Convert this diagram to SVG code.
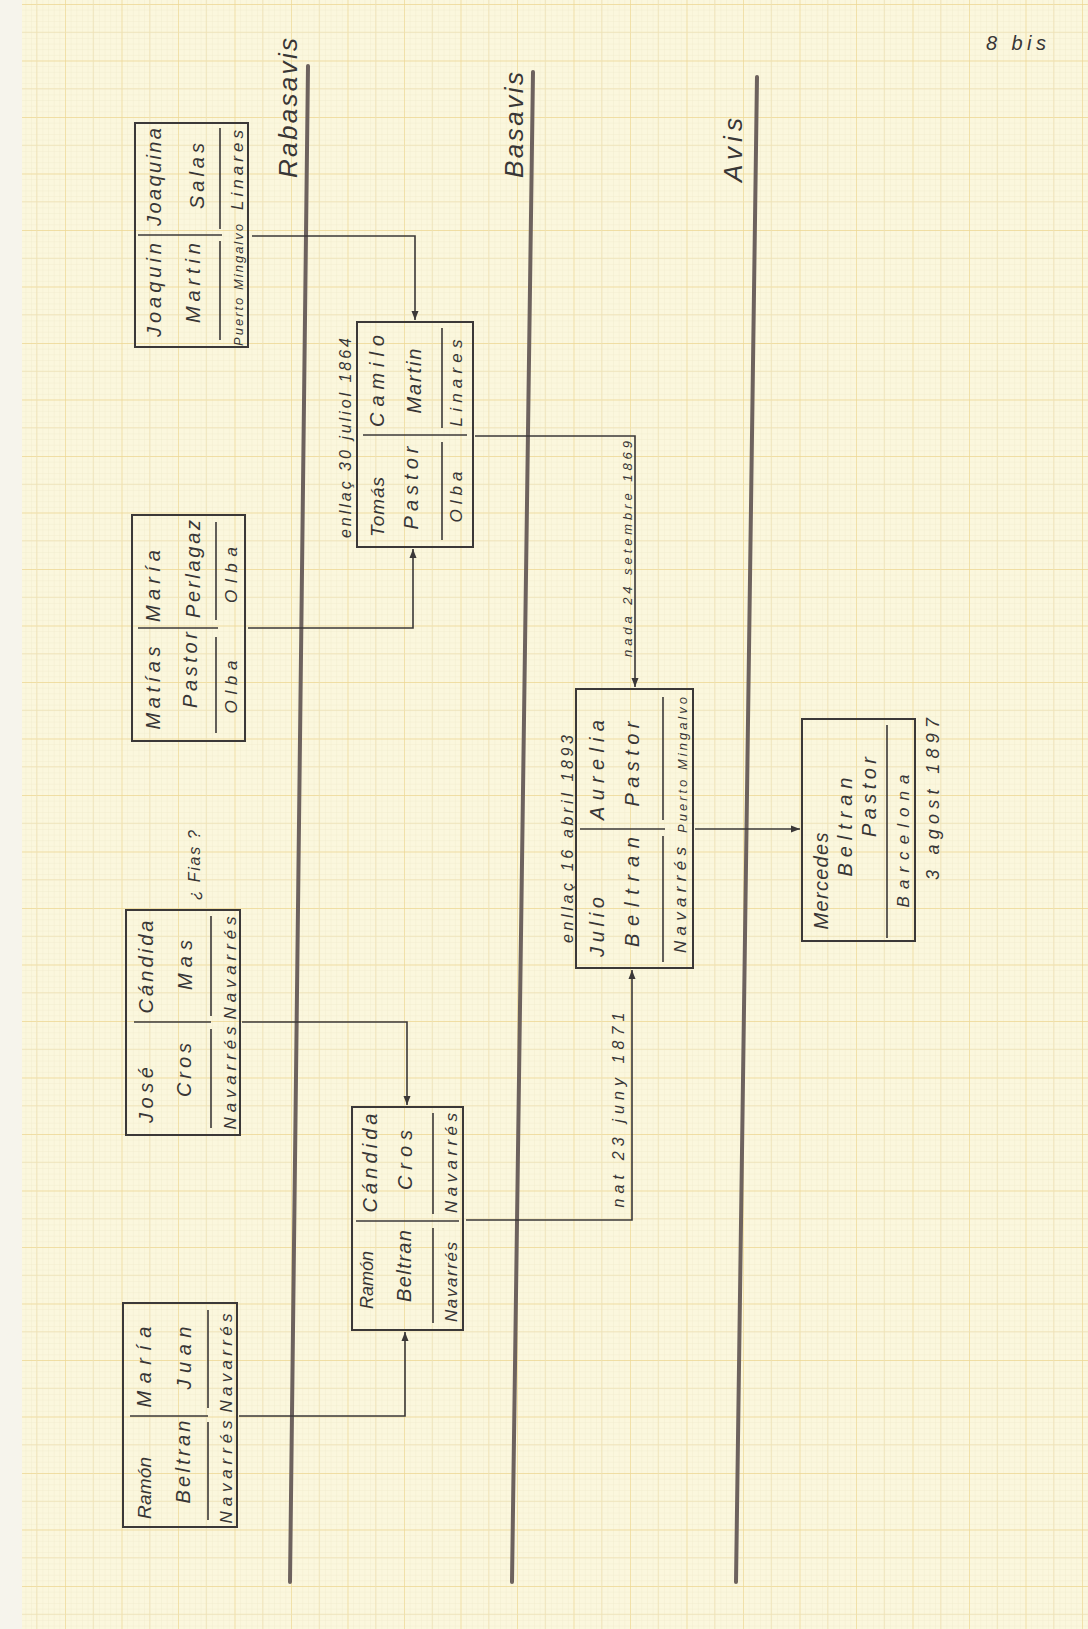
<svg xmlns="http://www.w3.org/2000/svg" width="1088" height="1629" viewBox="0 0 1088 1629">
<defs>
<pattern id="minor" patternUnits="userSpaceOnUse" x="8.5" y="4" width="5.65" height="5.65">
<path d="M0,0 H5.65 M0,0 V5.65" stroke="#ebe5c6" stroke-width="0.6" fill="none"/>
</pattern>
<pattern id="major" patternUnits="userSpaceOnUse" x="8.5" y="4" width="56.5" height="56.5">
<path d="M0,0 H56.5 M0,0 V56.5" stroke="#eed793" stroke-width="1.3" fill="none"/>
<path d="M0,28.25 H56.5 M28.25,0 V56.5" stroke="#ece0b4" stroke-width="0.8" fill="none"/>
</pattern>
<marker id="ah" markerUnits="userSpaceOnUse" markerWidth="10" markerHeight="8" refX="9" refY="4" orient="auto">
<path d="M0,0.5 L9,4 L0,7.5 Z" fill="#3b3838"/>
</marker>
</defs>
<style>
.box{fill:none;stroke:#3b3838;stroke-width:2}
.ln{fill:none;stroke:#3b3838;stroke-width:1.6}
.gen{stroke:#6d625e;stroke-width:4;stroke-linecap:round}
.t{font-family:"Liberation Sans",Arial,sans-serif;font-style:italic;fill:#383636;text-anchor:middle}
.n{font-size:20px}
.p{font-size:17px}
.s{font-size:13px}
.d{font-size:16px}
.g{font-size:26px}
</style>
<rect width="1088" height="1629" fill="#fbf7dd"/>
<rect x="0" y="0" width="22" height="1629" fill="#f6f4ec"/>
<rect x="22" y="0" width="1066" height="1629" fill="url(#minor)"/>
<rect x="22" y="0" width="1066" height="1629" fill="url(#major)"/>

<g id="generations">
<line class="gen" x1="308" y1="66" x2="290" y2="1582"/>
<line class="gen" x1="533" y1="72" x2="512" y2="1582"/>
<line class="gen" x1="757" y1="77" x2="736" y2="1582"/>
<text class="t g" transform="translate(297,108) rotate(-90)" textLength="140">Rabasavis</text>
<text class="t g" transform="translate(523,125) rotate(-90)" textLength="106">Basavis</text>
<text class="t g" transform="translate(742,150) rotate(-90)" textLength="64">Avis</text>
<text class="t n" x="1016" y="50" textLength="60">8 bis</text>
</g>

<g id="connectors">
<path class="ln" d="M252,236 H415 V320" marker-end="url(#ah)"/>
<path class="ln" d="M248,628 H413 V549" marker-end="url(#ah)"/>
<path class="ln" d="M475,436 H635 V687" marker-end="url(#ah)"/>
<path class="ln" d="M242,1022 H407 V1105" marker-end="url(#ah)"/>
<path class="ln" d="M239,1416 H405 V1332" marker-end="url(#ah)"/>
<path class="ln" d="M466,1220 H632 V970" marker-end="url(#ah)"/>
<path class="ln" d="M695,829 H800" marker-end="url(#ah)"/>
<text class="t d" transform="translate(351,438) rotate(-90)" textLength="200">enllaç 30 juliol 1864</text>
<text class="t s" transform="translate(632,549) rotate(-90)" textLength="216">nada 24 setembre 1869</text>
<text class="t d" transform="translate(573,839) rotate(-90)" textLength="208">enllaç 16 abril 1893</text>
<text class="t d" transform="translate(624,1110) rotate(-90)" textLength="195">nat 23 juny 1871</text>
</g>

<g id="node-joaquin-martin-joaquina-salas">
<rect class="box" x="135" y="123" width="113" height="224"/>
<line class="ln" x1="138" y1="235" x2="222" y2="235"/>
<line class="ln" x1="220" y1="128" x2="220" y2="229"/>
<line class="ln" x1="220" y1="241" x2="220" y2="340"/>
<text class="t n" transform="translate(161,177) rotate(-90)" textLength="98">Joaquina</text>
<text class="t n" transform="translate(204,176) rotate(-90)" textLength="66">Salas</text>
<text class="t p" transform="translate(243,170) rotate(-90)" textLength="80">Linares</text>
<text class="t n" transform="translate(161,290) rotate(-90)" textLength="94">Joaquin</text>
<text class="t n" transform="translate(200,283) rotate(-90)" textLength="80">Martin</text>
<text class="t s" transform="translate(243,285) rotate(-90)" textLength="122">Puerto Mingalvo</text>
</g>

<g id="node-matias-pastor-maria-perlagaz">
<rect class="box" x="132" y="515" width="113" height="226"/>
<line class="ln" x1="138" y1="628" x2="218" y2="628"/>
<line class="ln" x1="216" y1="522" x2="216" y2="620"/>
<line class="ln" x1="216" y1="637" x2="216" y2="733"/>
<text class="t n" transform="translate(160,586) rotate(-90)" textLength="72">María</text>
<text class="t n" transform="translate(200,569) rotate(-90)" textLength="98">Perlagaz</text>
<text class="t p" transform="translate(237,575) rotate(-90)" textLength="56">Olba</text>
<text class="t n" transform="translate(160,688) rotate(-90)" textLength="83">Matías</text>
<text class="t n" transform="translate(197,670) rotate(-90)" textLength="76">Pastor</text>
<text class="t p" transform="translate(237,687) rotate(-90)" textLength="53">Olba</text>
</g>

<g id="node-jose-cros-candida-mas">
<rect class="box" x="126" y="910" width="114" height="225"/>
<line class="ln" x1="134" y1="1022" x2="211" y2="1022"/>
<line class="ln" x1="211" y1="916" x2="211" y2="1016"/>
<line class="ln" x1="211" y1="1029" x2="211" y2="1128"/>
<text class="t n" transform="translate(153,967) rotate(-90)" textLength="93">Cándida</text>
<text class="t n" transform="translate(192,965) rotate(-90)" textLength="50">Mas</text>
<text class="t p" transform="translate(236,968) rotate(-90)" textLength="103">Navarrés</text>
<text class="t n" transform="translate(153,1095) rotate(-90)" textLength="56">José</text>
<text class="t n" transform="translate(191,1070) rotate(-90)" textLength="54">Cros</text>
<text class="t p" transform="translate(236,1078) rotate(-90)" textLength="103">Navarrés</text>
<text class="t d" transform="translate(200,865) rotate(-90)" textLength="70">¿ Fias ?</text>
</g>

<g id="node-ramon-beltran-maria-juan">
<rect class="box" x="123" y="1303" width="114" height="224"/>
<line class="ln" x1="130" y1="1416" x2="208" y2="1416"/>
<line class="ln" x1="208" y1="1310" x2="208" y2="1408"/>
<line class="ln" x1="208" y1="1422" x2="208" y2="1520"/>
<text class="t n" transform="translate(151,1367) rotate(-90)" textLength="81">María</text>
<text class="t n" transform="translate(191,1358) rotate(-90)" textLength="63">Juan</text>
<text class="t p" transform="translate(232,1363) rotate(-90)" textLength="99">Navarrés</text>
<text class="t n" transform="translate(151,1488) rotate(-90)" style="font-size:19px" textLength="62">Ramón</text>
<text class="t n" transform="translate(190,1462) rotate(-90)" textLength="83">Beltran</text>
<text class="t p" transform="translate(232,1472) rotate(-90)" textLength="103">Navarrés</text>
</g>

<g id="node-tomas-pastor-camilo-martin">
<rect class="box" x="357" y="322" width="116" height="225"/>
<line class="ln" x1="363" y1="435" x2="467" y2="435"/>
<line class="ln" x1="442" y1="328" x2="442" y2="428"/>
<line class="ln" x1="442" y1="442" x2="442" y2="540"/>
<text class="t n" transform="translate(384,381) rotate(-90)" textLength="92">Camilo</text>
<text class="t n" transform="translate(421,381) rotate(-90)" textLength="65">Martin</text>
<text class="t p" transform="translate(462,383) rotate(-90)" textLength="87">Linares</text>
<text class="t n" transform="translate(384,507) rotate(-90)" style="font-size:19px" textLength="60">Tomás</text>
<text class="t n" transform="translate(418,488) rotate(-90)" textLength="83">Pastor</text>
<text class="t p" transform="translate(462,497) rotate(-90)" textLength="51">Olba</text>
</g>

<g id="node-ramon-beltran-candida-cros">
<rect class="box" x="352" y="1107" width="111" height="223"/>
<line class="ln" x1="356" y1="1221" x2="459" y2="1221"/>
<line class="ln" x1="433" y1="1113" x2="433" y2="1214"/>
<line class="ln" x1="433" y1="1228" x2="433" y2="1323"/>
<text class="t n" transform="translate(377,1163) rotate(-90)" textLength="99">Cándida</text>
<text class="t n" transform="translate(412,1160) rotate(-90)" textLength="60">Cros</text>
<text class="t p" transform="translate(457,1163) rotate(-90)" textLength="100">Navarrés</text>
<text class="t n" transform="translate(373,1280) rotate(-90)" style="font-size:18px" textLength="58">Ramón</text>
<text class="t n" transform="translate(411,1266) rotate(-90)" textLength="72">Beltran</text>
<text class="t p" transform="translate(457,1282) rotate(-90)" textLength="80">Navarrés</text>
</g>

<g id="node-julio-beltran-aurelia-pastor">
<rect class="box" x="576" y="689" width="117" height="279"/>
<line class="ln" x1="580" y1="829" x2="665" y2="829"/>
<line class="ln" x1="663" y1="697" x2="663" y2="820"/>
<line class="ln" x1="663" y1="836" x2="663" y2="962"/>
<text class="t n" transform="translate(604,770) rotate(-90)" textLength="100">Aurelia</text>
<text class="t n" transform="translate(639,764) rotate(-90)" textLength="85">Pastor</text>
<text class="t s" transform="translate(687,765) rotate(-90)" textLength="136">Puerto Mingalvo</text>
<text class="t n" transform="translate(604,927) rotate(-90)" textLength="60">Julio</text>
<text class="t n" transform="translate(639,892) rotate(-90)" textLength="110">Beltran</text>
<text class="t p" transform="translate(686,900) rotate(-90)" textLength="106">Navarrés</text>
</g>

<g id="node-mercedes-beltran-pastor">
<rect class="box" x="802" y="719" width="113" height="222"/>
<line class="ln" x1="887" y1="725" x2="887" y2="938"/>
<text class="t n" transform="translate(828,881) rotate(-90)" textLength="97">Mercedes</text>
<text class="t n" transform="translate(852,827) rotate(-90)" textLength="99">Beltran</text>
<text class="t n" transform="translate(876,797) rotate(-90)" textLength="80">Pastor</text>
<text class="t p" transform="translate(909,841) rotate(-90)" textLength="133">Barcelona</text>
<text class="t d" transform="translate(939,799) rotate(-90)" style="font-size:18px" textLength="162">3 agost 1897</text>
</g>
</svg>
